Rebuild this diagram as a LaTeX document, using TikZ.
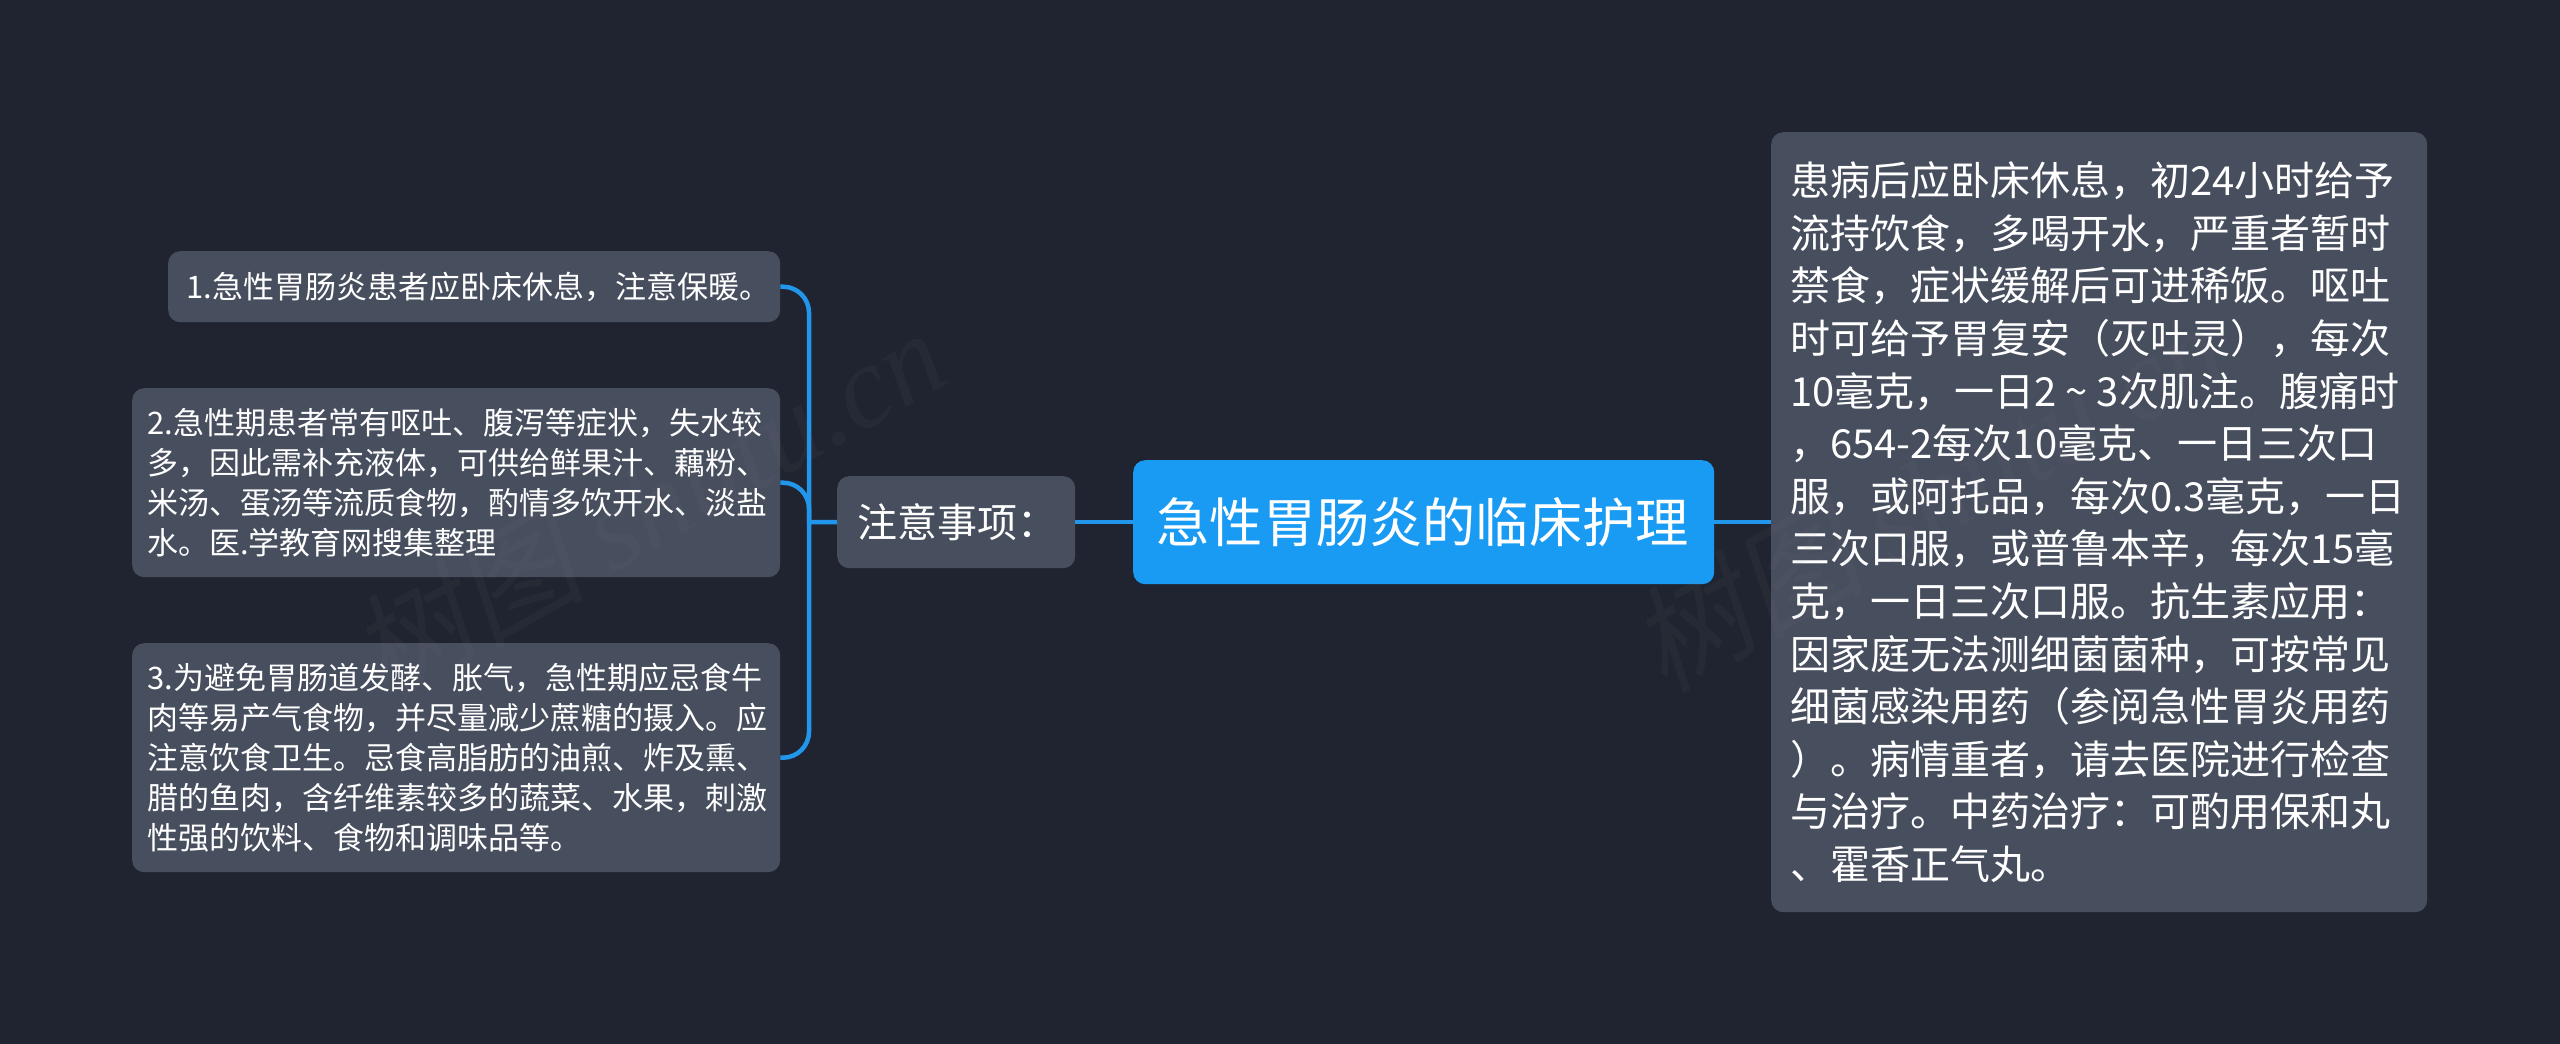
\documentclass[tikz,border=0pt]{standalone}
\usepackage{fontspec}
\setmainfont{Noto Sans CJK SC}
\newfontfamily\wmcjk[FakeSlant=0.2]{Noto Sans CJK SC}
\newfontfamily\wmlat[ItalicFont=Liberation Serif Italic]{Liberation Serif}
\definecolor{bgc}{RGB}{31,36,48}
\definecolor{nodec}{RGB}{71,78,94}
\definecolor{rootc}{RGB}{25,155,243}
\definecolor{linec}{RGB}{33,150,235}
\tikzset{
  x=1pt,y=-1pt,
  box/.style={fill=nodec,rounded corners=12pt,inner sep=0pt,align=left,text=white,anchor=north west},
  smalltext/.style={box,font=\fontsize{31}{39.9}\selectfont},
  bigtext/.style={box,font=\fontsize{40}{52.6}\selectfont},
  roottext/.style={box,fill=rootc,font=\fontsize{53.2}{60}\selectfont},
  conn/.style={draw=linec,line width=4.5pt,rounded corners=26pt},
  conns/.style={draw=linec,line width=4.5pt},
  wm/.style={text=gray,opacity=0.07,rotate=29.5,font=\fontsize{117}{125}\selectfont,anchor=center,inner sep=0pt}
}
\begin{document}
\begin{tikzpicture}
\useasboundingbox[fill=bgc] (0,0) rectangle (2560,1044);
\coordinate (jn) at (809,522);
\node[smalltext,minimum width=612pt,minimum height=71pt,text width=576pt] (n1) at (168,251) {1.急性胃肠炎患者应卧床休息，注意保暖。};
\node[smalltext,minimum width=648pt,minimum height=189pt,text width=618pt] (n2) at (132,388) {2.急性期患者常有呕吐、腹泻等症状，失水较\\多，因此需补充液体，可供给鲜果汁、藕粉、\\米汤、蛋汤等流质食物，酌情多饮开水、淡盐\\水。医.学教育网搜集整理};
\node[smalltext,minimum width=648pt,minimum height=229pt,text width=618pt] (n3) at (132,643) {3.为避免胃肠道发酵、胀气，急性期应忌食牛\\肉等易产气食物，并尽量减少蔗糖的摄入。应\\注意饮食卫生。忌食高脂肪的油煎、炸及熏、\\腊的鱼肉，含纤维素较多的蔬菜、水果，刺激\\性强的饮料、食物和调味品等。};
\node[box,font=\fontsize{40}{50}\selectfont,minimum width=238pt,minimum height=92pt,text width=198pt] (sub) at (837,476) {注意事项：};
\node[roottext,minimum width=581pt,minimum height=124pt,text width=534pt] (root) at (1133,460) {急性胃肠炎的临床护理};
\node[bigtext,minimum width=656pt,minimum height=780pt,text width=618pt] (det) at (1771,132) {患病后应卧床休息，初24小时给予\\流持饮食，多喝开水，严重者暂时\\禁食，症状缓解后可进稀饭。呕吐\\时可给予胃复安（灭吐灵），每次\\10毫克，一日2\makebox[1em]{\textasciitilde}3次肌注。腹痛时\\，654-2每次10毫克、一日三次口\\服，或阿托品，每次0.3毫克，一日\\三次口服，或普鲁本辛，每次15毫\\克，一日三次口服。抗生素应用：\\因家庭无法测细菌菌种，可按常见\\细菌感染用药（参阅急性胃炎用药\\）。病情重者，请去医院进行检查\\与治疗。中药治疗：可酌用保和丸\\、霍香正气丸。};
\draw[conn] (n1.east) -| (jn);
\draw[conn] (n2.east) -| (jn);
\draw[conn] (n3.east) -| (jn);
\draw[conns] (jn) -- (sub.west);
\draw[conns] (sub.east) -- (root.west);
\draw[conns] (root.east) -- (det.west);
\node[wm] (wm1) at (647,503) {{\wmcjk 树图} {\wmlat\itshape shutu.cn}};
\node[wm] (wm2) at (1927,495) {{\wmcjk 树图} {\wmlat\itshape shutu.cn}};
\end{tikzpicture}
\end{document}
